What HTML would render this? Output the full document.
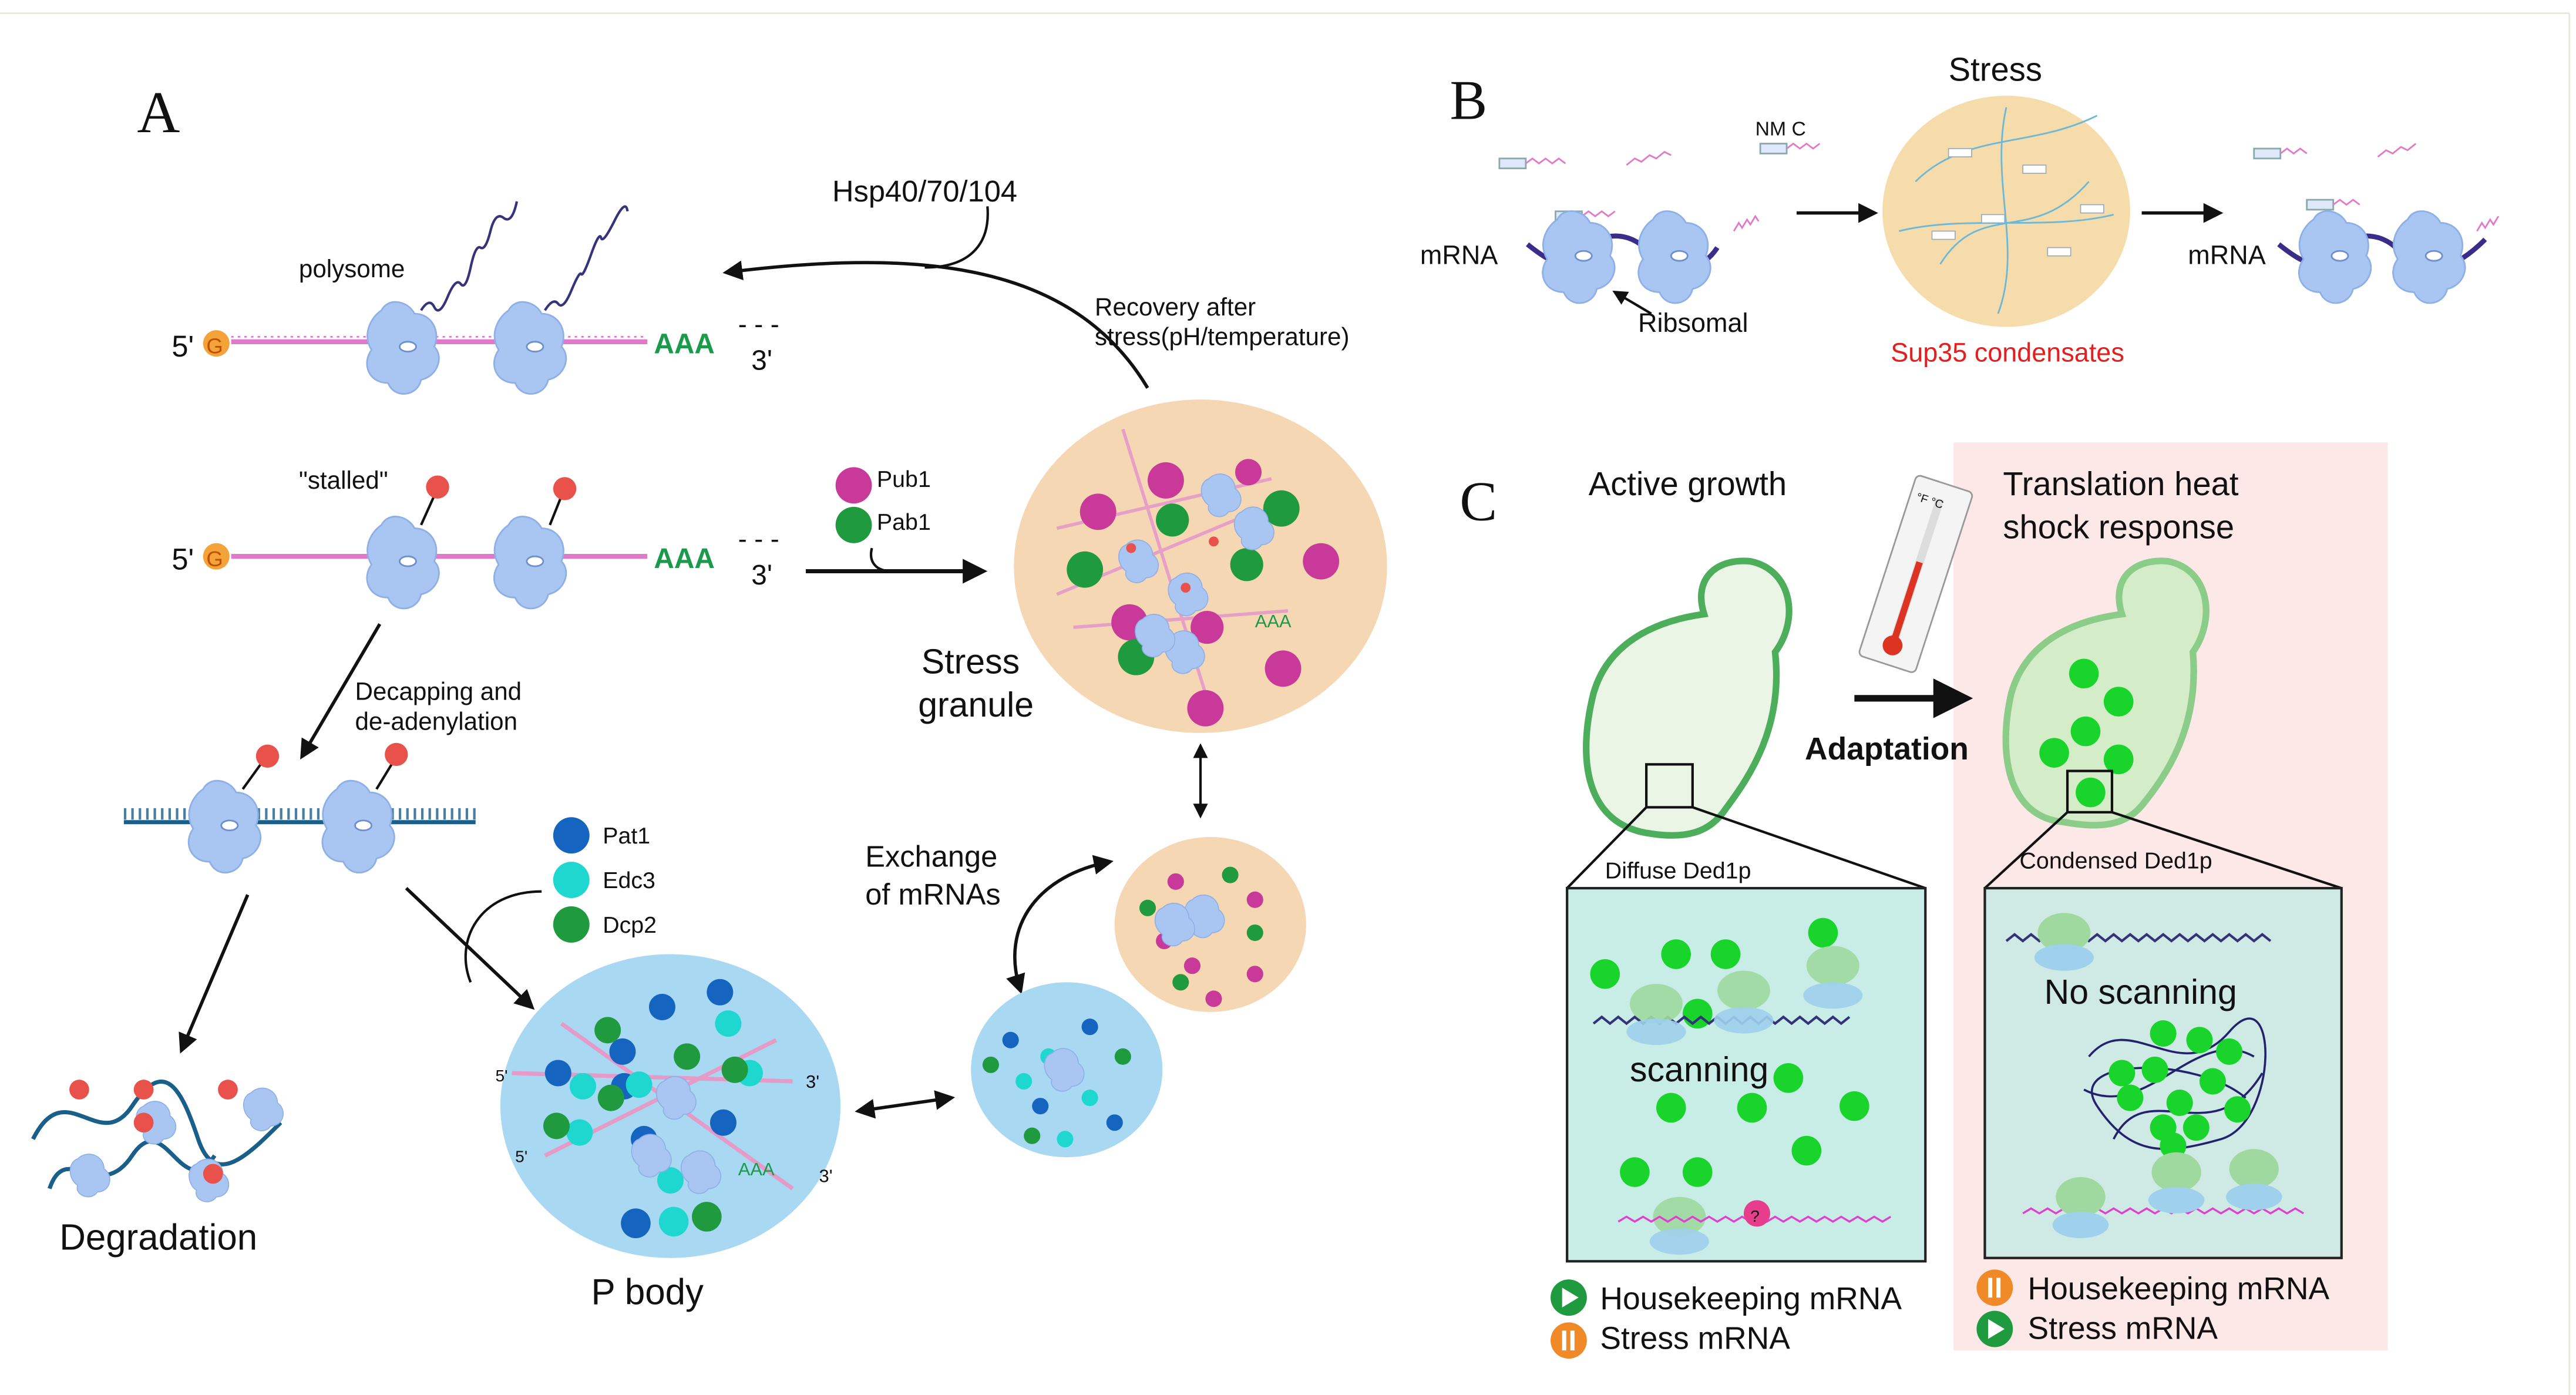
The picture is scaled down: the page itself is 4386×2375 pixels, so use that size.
<!DOCTYPE html>
<html><head><meta charset="utf-8"><style>
html,body{margin:0;padding:0;background:#fff}
svg{display:block}
text{font-family:"Liberation Sans",sans-serif;fill:#111}
</style></head><body>
<svg width="4386" height="2375" viewBox="0 0 1560 845" preserveAspectRatio="none" xmlns="http://www.w3.org/2000/svg">
<defs>
<marker id="ah" viewBox="0 0 10 10" refX="8" refY="5" markerWidth="6" markerHeight="6" orient="auto-start-reverse"><path d="M0,0L10,5L0,10z" fill="#111"/></marker>
<g id="rib">
<path d="M-14,-22 C-10,-30 2,-28 6,-20 C16,-20 22,-10 18,0 C24,6 20,18 10,20 C8,30 -6,32 -10,22 C-22,22 -26,10 -20,2 C-26,-8 -20,-18 -14,-22z" fill="#a9c6f2" stroke="#8fb0e6" stroke-width="1"/>
<ellipse cx="2" cy="0" rx="5" ry="3" fill="#fff" stroke="#6d8fcc" stroke-width="1"/>
</g>
<g id="rs"><path d="M-8,-10 C-2,-16 8,-12 8,-4 C14,0 12,10 4,10 C0,16 -10,12 -8,6 C-14,2 -14,-8 -8,-10z" fill="#a9c6f2" stroke="#8fb0e6" stroke-width="0.6"/></g>
</defs>
<rect x="0" y="0" width="1560" height="845" fill="#fff"/>
<line x1="0" y1="8" x2="1556" y2="8" stroke="#e6eadb" stroke-width="1"/>
<line x1="1556" y1="8" x2="1556" y2="845" stroke="#e6eadb" stroke-width="1"/>
<!-- pink panel -->
<rect x="1183" y="268" width="263" height="550" fill="#fde8e8"/>

<!-- Labels -->
<text x="83" y="80" style="font-family:'Liberation Serif',serif" font-size="36">A</text>
<text x="878" y="72" style="font-family:'Liberation Serif',serif" font-size="34">B</text>
<text x="884" y="315" style="font-family:'Liberation Serif',serif" font-size="34">C</text>

<!-- ===== Panel A ===== -->
<!-- polysome -->
<line x1="140" y1="207" x2="392" y2="207" stroke="#e07ac8" stroke-width="3"/>
<line x1="140" y1="204" x2="392" y2="204" stroke="#e07ac8" stroke-width="1" stroke-dasharray="1.5 2.5"/>
<text x="104" y="216" font-size="18">5'</text><circle cx="131" cy="208" r="8" fill="#f4a23a"/><text x="125" y="214" font-size="13" style="fill:#c05000">G</text>
<text x="396" y="214" font-size="17" style="fill:#1a9a4a;font-weight:bold">AAA</text>
<text x="447" y="202" font-size="16">- - -</text><text x="455" y="224" font-size="17">3'</text>
<path d="M255,188 q5,-8 8,-2 t8,-6 t8,-8 t6,-10 t6,-12 t6,-10 t8,-8 t8,-10" fill="none" stroke="#35337a" stroke-width="1.5"/>
<path d="M330,188 q5,-8 8,-4 t8,-8 t6,-10 t6,-12 t6,-10 t8,-10 t8,-6" fill="none" stroke="#35337a" stroke-width="1.5"/>
<use href="#rib" x="245" y="210"/><use href="#rib" x="322" y="210"/>
<text x="181" y="168" font-size="15">polysome</text>
<text x="504" y="122" font-size="18">Hsp40/70/104</text>
<path d="M598,125 C600,150 585,162 560,162" fill="none" stroke="#111" stroke-width="1.5"/>
<path d="M695,235 C650,160 560,150 440,165" fill="none" stroke="#111" stroke-width="2" marker-end="url(#ah)"/>
<text x="663" y="191" font-size="15">Recovery after</text>
<text x="663" y="209" font-size="15">stress(pH/temperature)</text>

<!-- stalled -->
<line x1="140" y1="337" x2="392" y2="337" stroke="#e07ac8" stroke-width="3"/>
<text x="104" y="345" font-size="18">5'</text><circle cx="131" cy="337" r="8" fill="#f4a23a"/><text x="125" y="343" font-size="13" style="fill:#c05000">G</text>
<text x="396" y="344" font-size="17" style="fill:#1a9a4a;font-weight:bold">AAA</text>
<text x="447" y="332" font-size="16">- - -</text><text x="455" y="354" font-size="17">3'</text>
<use href="#rib" x="245" y="340"/><use href="#rib" x="322" y="340"/>
<line x1="255" y1="318" x2="264" y2="298" stroke="#111" stroke-width="1.5"/><circle cx="265" cy="295" r="7" fill="#e8524a"/>
<line x1="333" y1="318" x2="341" y2="298" stroke="#111" stroke-width="1.5"/><circle cx="342" cy="296" r="7" fill="#e8524a"/>
<text x="181" y="296" font-size="15">"stalled"</text>
<line x1="488" y1="346" x2="595" y2="346" stroke="#111" stroke-width="2.5" marker-end="url(#ah)"/>
<path d="M528,332 C526,340 530,346 540,346" fill="none" stroke="#111" stroke-width="1.5"/>
<circle cx="517" cy="294" r="11" fill="#c8399a"/><text x="531" y="295" font-size="14">Pub1</text>
<circle cx="517" cy="318" r="11" fill="#1f9a3e"/><text x="531" y="321" font-size="14">Pab1</text>

<!-- stress granule -->
<ellipse cx="727" cy="343" rx="113" ry="101" fill="#f6d7b4"/>
<g stroke="#e59ac8" stroke-width="2" opacity="0.9">
<line x1="640" y1="320" x2="770" y2="290"/><line x1="650" y1="380" x2="780" y2="370"/><line x1="680" y1="260" x2="730" y2="420"/><line x1="640" y1="360" x2="760" y2="310"/></g>
<g fill="#c8399a"><circle cx="706" cy="291" r="11"/><circle cx="665" cy="310" r="11"/><circle cx="684" cy="377" r="11"/><circle cx="800" cy="340" r="11"/><circle cx="777" cy="405" r="11"/><circle cx="730" cy="429" r="11"/><circle cx="731" cy="380" r="10"/><circle cx="756" cy="286" r="8"/></g>
<g fill="#1f9a3e"><circle cx="657" cy="345" r="11"/><circle cx="710" cy="315" r="10"/><circle cx="776" cy="308" r="11"/><circle cx="755" cy="342" r="10"/><circle cx="688" cy="398" r="11"/></g>
<use href="#rs" x="690" y="340"/><use href="#rs" x="720" y="360"/><use href="#rs" x="760" y="320"/><use href="#rs" x="718" y="395"/><use href="#rs" x="740" y="300"/><use href="#rs" x="700" y="385"/>
<g fill="#e8524a"><circle cx="685" cy="332" r="3"/><circle cx="735" cy="328" r="3"/><circle cx="718" cy="356" r="3"/></g>
<text x="760" y="380" font-size="11" style="fill:#1a9a4a">AAA</text>
<text x="558" y="408" font-size="21">Stress</text><text x="556" y="434" font-size="21">granule</text>
<line x1="727" y1="452" x2="727" y2="494" stroke="#111" stroke-width="1.5" marker-end="url(#ah)" marker-start="url(#ah)"/>
<!-- small SG -->
<ellipse cx="733" cy="560" rx="58" ry="53" fill="#f6d7b4"/>
<g fill="#c8399a"><circle cx="712" cy="534" r="5"/><circle cx="760" cy="545" r="5"/><circle cx="705" cy="570" r="5"/><circle cx="735" cy="605" r="5"/><circle cx="760" cy="590" r="5"/><circle cx="722" cy="585" r="5"/></g>
<g fill="#1f9a3e"><circle cx="695" cy="550" r="5"/><circle cx="745" cy="530" r="5"/><circle cx="760" cy="565" r="5"/><circle cx="715" cy="595" r="5"/></g>
<use href="#rs" x="730" y="555" transform="scale(1)"/><use href="#rs" x="712" y="560"/>
<text x="524" y="525" font-size="18">Exchange</text><text x="524" y="548" font-size="18">of mRNAs</text>
<path d="M618,600 C605,560 630,530 672,522" fill="none" stroke="#111" stroke-width="2" marker-end="url(#ah)" marker-start="url(#ah)"/>
<!-- small P body -->
<ellipse cx="646" cy="648" rx="58" ry="53" fill="#a8d8f2"/>
<g fill="#1565c0"><circle cx="612" cy="630" r="5"/><circle cx="660" cy="622" r="5"/><circle cx="630" cy="670" r="5"/><circle cx="675" cy="680" r="5"/></g>
<g fill="#1ed8d0"><circle cx="635" cy="640" r="5"/><circle cx="645" cy="690" r="5"/><circle cx="620" cy="655" r="5"/><circle cx="660" cy="665" r="5"/></g>
<g fill="#1f9a3e"><circle cx="600" cy="645" r="5"/><circle cx="680" cy="640" r="5"/><circle cx="625" cy="688" r="5"/></g>
<use href="#rs" x="645" y="648"/>
<line x1="520" y1="673" x2="576" y2="665" stroke="#111" stroke-width="2" marker-end="url(#ah)" marker-start="url(#ah)"/>

<!-- decapping -->
<line x1="230" y1="378" x2="183" y2="458" stroke="#111" stroke-width="2" marker-end="url(#ah)"/>
<text x="215" y="424" font-size="15">Decapping and</text><text x="215" y="442" font-size="15">de-adenylation</text>
<line x1="75" y1="498" x2="288" y2="498" stroke="#1a5e8a" stroke-width="2.5"/>
<line x1="75" y1="493" x2="288" y2="493" stroke="#1a5e8a" stroke-width="7" stroke-dasharray="1.5 3" opacity="0.8"/>
<use href="#rib" x="137" y="500"/><use href="#rib" x="218" y="500"/>
<line x1="147" y1="478" x2="160" y2="460" stroke="#111" stroke-width="1.5"/><circle cx="162" cy="458" r="7" fill="#e8524a"/>
<line x1="228" y1="478" x2="239" y2="460" stroke="#111" stroke-width="1.5"/><circle cx="240" cy="457" r="7" fill="#e8524a"/>
<line x1="150" y1="542" x2="110" y2="636" stroke="#111" stroke-width="2" marker-end="url(#ah)"/>
<line x1="246" y1="538" x2="322" y2="610" stroke="#111" stroke-width="2" marker-end="url(#ah)"/>
<path d="M328,540 C290,540 275,570 285,595" fill="none" stroke="#111" stroke-width="1.5"/>
<circle cx="346" cy="506" r="11" fill="#1565c0"/><text x="365" y="511" font-size="14">Pat1</text>
<circle cx="346" cy="533" r="11" fill="#1ed8d0"/><text x="365" y="538" font-size="14">Edc3</text>
<circle cx="346" cy="560" r="11" fill="#1f9a3e"/><text x="365" y="565" font-size="14">Dcp2</text>

<!-- degradation -->
<path d="M20,690 C40,650 60,700 80,670 S110,660 120,690 S150,700 170,680" fill="none" stroke="#1a5e8a" stroke-width="2.5"/>
<path d="M30,720 C40,690 60,730 80,700 S110,730 130,700" fill="none" stroke="#1a5e8a" stroke-width="2.5"/>
<use href="#rs" x="95" y="680" transform=""/><use href="#rs" x="160" y="672"/><use href="#rs" x="55" y="712"/><use href="#rs" x="127" y="715"/>
<g fill="#e8524a"><circle cx="48" cy="660" r="6"/><circle cx="87" cy="660" r="6"/><circle cx="138" cy="660" r="6"/><circle cx="87" cy="680" r="6"/><circle cx="129" cy="711" r="6"/></g>
<text x="36" y="757" font-size="22">Degradation</text>

<!-- P body -->
<ellipse cx="406" cy="670" rx="103" ry="92" fill="#a8d8f2"/>
<g stroke="#e59ac8" stroke-width="2.5"><line x1="340" y1="620" x2="480" y2="720"/><line x1="310" y1="650" x2="480" y2="655"/><line x1="330" y1="700" x2="470" y2="630"/></g>
<g fill="#1565c0"><circle cx="401" cy="610" r="8"/><circle cx="436" cy="601" r="8"/><circle cx="377" cy="637" r="8"/><circle cx="338" cy="650" r="8"/><circle cx="390" cy="690" r="8"/><circle cx="385" cy="741" r="9"/><circle cx="378" cy="658" r="8"/><circle cx="438" cy="680" r="8"/></g>
<g fill="#1ed8d0"><circle cx="441" cy="620" r="8"/><circle cx="353" cy="658" r="8"/><circle cx="387" cy="657" r="8"/><circle cx="351" cy="686" r="8"/><circle cx="406" cy="715" r="8"/><circle cx="408" cy="740" r="9"/><circle cx="454" cy="650" r="8"/></g>
<g fill="#1f9a3e"><circle cx="368" cy="624" r="8"/><circle cx="370" cy="665" r="8"/><circle cx="416" cy="640" r="8"/><circle cx="445" cy="648" r="8"/><circle cx="337" cy="682" r="8"/><circle cx="428" cy="737" r="9"/></g>
<use href="#rs" x="410" y="665"/><use href="#rs" x="395" y="700"/><use href="#rs" x="425" y="710"/>
<text x="300" y="655" font-size="10">5'</text><text x="312" y="704" font-size="10">5'</text><text x="488" y="659" font-size="11">3'</text><text x="496" y="716" font-size="11">3'</text>
<text x="447" y="712" font-size="11" style="fill:#1a9a4a">AAA</text>
<text x="358" y="790" font-size="22">P body</text>

<!-- ===== Panel B ===== -->
<text x="1180" y="49" font-size="20">Stress</text>
<ellipse cx="1215" cy="128" rx="75" ry="70" fill="#f6dcaa"/>
<g fill="none" stroke="#6cb8d8" stroke-width="1"><path d="M1160,110 C1190,80 1230,90 1270,70 M1175,160 C1200,120 1230,150 1265,110 M1215,65 C1205,110 1225,150 1210,190 M1150,140 C1190,130 1240,140 1280,130"/></g>
<g fill="#fff" stroke="#9ab" stroke-width="0.6"><rect x="1180" y="90" width="14" height="5"/><rect x="1225" y="100" width="14" height="5"/><rect x="1200" y="130" width="14" height="5"/><rect x="1240" y="150" width="14" height="5"/><rect x="1170" y="140" width="14" height="5"/><rect x="1260" y="124" width="14" height="5"/></g>
<text x="1145" y="219" font-size="16" style="fill:#e31f1f">Sup35 condensates</text>
<text x="1063" y="82" font-size="12">NM C</text>
<g fill="#dfe8fa" stroke="#8aa"><rect x="1066" y="87" width="16" height="6"/><rect x="908" y="96" width="16" height="6"/><rect x="942" y="128" width="16" height="6"/><rect x="1365" y="90" width="16" height="6"/><rect x="1397" y="121" width="16" height="6"/></g>
<g fill="none" stroke="#e07ac8" stroke-width="1"><path d="M1082,90 l4,-3 4,3 4,-3 4,3 4,-3"/><path d="M924,99 l4,-3 4,3 4,-3 4,3 4,-3 4,3"/><path d="M958,131 l4,-3 4,3 4,-3 4,3 4,-3"/><path d="M985,100 l5,-4 4,2 5,-4 4,2 5,-4 4,2"/><path d="M1381,93 l4,-3 4,3 4,-3 4,3"/><path d="M1413,124 l4,-3 4,3 4,-3 4,3"/><path d="M1440,95 l5,-4 4,2 5,-4 4,2 5,-4"/><path d="M1050,140 l3,-5 2,3 3,-5 2,3 3,-5 2,3"/><path d="M1500,140 l3,-5 2,3 3,-5 2,3 3,-5"/></g>
<path d="M925,148 C940,160 950,165 960,152 S990,140 1000,155 S1030,165 1040,150" fill="none" stroke="#3a2d8a" stroke-width="3"/>
<use href="#rib" x="957" y="155" transform=""/><use href="#rib" x="1015" y="155"/>
<text x="860" y="160" font-size="16">mRNA</text>
<line x1="1000" y1="190" x2="978" y2="177" stroke="#111" stroke-width="1.5" marker-end="url(#ah)"/>
<text x="992" y="201" font-size="16">Ribsomal</text>
<line x1="1088" y1="129" x2="1135" y2="129" stroke="#111" stroke-width="2" marker-end="url(#ah)"/>
<line x1="1297" y1="129" x2="1344" y2="129" stroke="#111" stroke-width="2" marker-end="url(#ah)"/>
<path d="M1380,148 C1395,160 1405,165 1415,152 S1445,140 1455,155 S1485,165 1505,145" fill="none" stroke="#3a2d8a" stroke-width="3"/>
<use href="#rib" x="1415" y="155"/><use href="#rib" x="1472" y="155"/>
<text x="1325" y="160" font-size="16">mRNA</text>

<!-- ===== Panel C ===== -->
<text x="962" y="300" font-size="20">Active growth</text>
<text x="1213" y="300" font-size="20">Translation heat</text>
<text x="1213" y="326" font-size="20">shock response</text>
<!-- thermometer -->
<g transform="rotate(18 1160 345)"><rect x="1143" y="290" width="36" height="115" rx="3" fill="#f4f4f4" stroke="#999"/><line x1="1161" y1="300" x2="1161" y2="390" stroke="#ddd" stroke-width="5"/><line x1="1161" y1="340" x2="1161" y2="390" stroke="#d32" stroke-width="4"/><circle cx="1161" cy="393" r="6" fill="#d32"/><text x="1147" y="305" font-size="7">°F  °C</text></g>
<line x1="1123" y1="423" x2="1190" y2="423" stroke="#111" stroke-width="4" marker-end="url(#ah)"/>
<text x="1093" y="460" font-size="19" style="font-weight:bold">Adaptation</text>
<!-- yeast left -->
<path d="M1000,505 C960,500 955,460 965,420 C975,385 1010,375 1032,372 C1025,350 1040,338 1060,340 C1085,345 1090,375 1075,395 C1080,440 1060,470 1045,490 C1035,505 1020,508 1000,505z" fill="#eaf5e6" stroke="#4cae5a" stroke-width="4"/>
<rect x="997" y="463" width="28" height="26" fill="none" stroke="#111" stroke-width="1.5"/>
<line x1="997" y1="489" x2="949" y2="538" stroke="#111" stroke-width="1.5"/><line x1="1025" y1="489" x2="1166" y2="538" stroke="#111" stroke-width="1.5"/>
<text x="972" y="532" font-size="14">Diffuse Ded1p</text>
<rect x="949" y="538" width="217" height="226" fill="#c8ece6" stroke="#222" stroke-width="1.5"/>
<g fill="#19d42a"><circle cx="972" cy="590" r="9"/><circle cx="1015" cy="578" r="9"/><circle cx="1045" cy="578" r="9"/><circle cx="1104" cy="565" r="9"/><circle cx="1028" cy="614" r="9"/><circle cx="1083" cy="653" r="9"/><circle cx="1123" cy="670" r="9"/><circle cx="1012" cy="671" r="9"/><circle cx="1061" cy="671" r="9"/><circle cx="1094" cy="697" r="9"/><circle cx="990" cy="710" r="9"/><circle cx="1028" cy="710" r="9"/></g>
<path d="M965,620 l5,-4 5,4 5,-4 5,4 5,-4 5,4 5,-4 5,4 5,-4 5,4 5,-4 5,4 5,-4 5,4 5,-4 5,4 5,-4 5,4 5,-4 5,4 5,-4 5,4 5,-4 5,4 5,-4 5,4 5,-4 5,4 5,-4 5,4 5,-4" fill="none" stroke="#33337a" stroke-width="1.5"/>
<g fill="#9fd9a0" opacity="0.9"><ellipse cx="1003" cy="608" rx="16" ry="12"/><ellipse cx="1056" cy="600" rx="16" ry="12"/><ellipse cx="1110" cy="585" rx="16" ry="12"/><ellipse cx="1017" cy="737" rx="16" ry="12"/></g>
<g fill="#9fd0ec" opacity="0.9"><ellipse cx="1003" cy="625" rx="18" ry="8"/><ellipse cx="1056" cy="618" rx="18" ry="8"/><ellipse cx="1110" cy="603" rx="18" ry="8"/><ellipse cx="1017" cy="752" rx="18" ry="8"/></g>
<path d="M980,740 l5,-3 5,3 5,-3 5,3 5,-3 5,3 5,-3 5,3 5,-3 5,3 5,-3 5,3 5,-3 5,3 5,-3 5,3 5,-3 5,3 5,-3 5,3 5,-3 5,3 5,-3 5,3 5,-3 5,3 5,-3 5,3 5,-3 5,3 5,-3 5,3 5,-3" fill="none" stroke="#e040d0" stroke-width="1.2"/>
<circle cx="1064" cy="735" r="8" fill="#e83c8c"/><text x="1060" y="740" font-size="10">?</text>
<text x="987" y="655" font-size="21">scanning</text>
<circle cx="950" cy="786" r="11" fill="#1f9a3e"/><path d="M946,780 L956,786 L946,792z" fill="#fff"/>
<text x="969" y="793" font-size="19">Housekeeping mRNA</text>
<circle cx="950" cy="812" r="11" fill="#f08a28"/><rect x="946" y="806" width="2.5" height="12" fill="#fff"/><rect x="951" y="806" width="2.5" height="12" fill="#fff"/>
<text x="969" y="817" font-size="19">Stress mRNA</text>
<!-- yeast right -->
<path d="M1250,498 C1215,495 1210,455 1218,420 C1228,385 1262,375 1285,372 C1278,350 1293,338 1313,340 C1338,345 1342,375 1328,395 C1332,440 1312,470 1297,488 C1287,500 1272,502 1250,498z" fill="#d5ecc8" stroke="#8acc88" stroke-width="4"/>
<g fill="#19d42a"><circle cx="1262" cy="408" r="9"/><circle cx="1283" cy="425" r="9"/><circle cx="1263" cy="443" r="9"/><circle cx="1244" cy="456" r="9"/><circle cx="1283" cy="460" r="9"/><circle cx="1266" cy="480" r="9"/></g>
<rect x="1252" y="467" width="27" height="25" fill="none" stroke="#111" stroke-width="1.5"/>
<line x1="1252" y1="492" x2="1202" y2="538" stroke="#111" stroke-width="1.5"/><line x1="1279" y1="492" x2="1418" y2="538" stroke="#111" stroke-width="1.5"/>
<text x="1223" y="526" font-size="14">Condensed Ded1p</text>
<rect x="1202" y="538" width="216" height="224" fill="#cfeae4" stroke="#222" stroke-width="1.5"/>
<path d="M1215,570 l5,-4 5,4 5,-4 5,4 5,-4 5,4 5,-4 5,4 5,-4 5,4 5,-4 5,4 5,-4 5,4 5,-4 5,4 5,-4 5,4 5,-4 5,4 5,-4 5,4 5,-4 5,4 5,-4 5,4 5,-4 5,4 5,-4 5,4 5,-4 5,4" fill="none" stroke="#33337a" stroke-width="1.5"/>
<ellipse cx="1250" cy="565" rx="16" ry="12" fill="#9fd9a0"/><ellipse cx="1250" cy="580" rx="18" ry="8" fill="#9fd0ec"/>
<text x="1238" y="608" font-size="21">No scanning</text>
<g fill="none" stroke="#22226e" stroke-width="1.3"><path d="M1265,640 C1290,610 1320,660 1350,625 S1380,680 1345,690 S1290,700 1270,670 S1330,640 1360,665"/><path d="M1280,690 C1300,650 1340,700 1370,650"/><path d="M1262,660 C1300,680 1330,620 1365,640"/></g>
<g fill="#19d42a"><circle cx="1310" cy="626" r="8"/><circle cx="1332" cy="630" r="8"/><circle cx="1350" cy="637" r="8"/><circle cx="1285" cy="650" r="8"/><circle cx="1305" cy="648" r="8"/><circle cx="1340" cy="655" r="8"/><circle cx="1290" cy="665" r="8"/><circle cx="1320" cy="668" r="8"/><circle cx="1355" cy="672" r="8"/><circle cx="1310" cy="683" r="8"/><circle cx="1330" cy="683" r="8"/><circle cx="1316" cy="694" r="8"/></g>
<path d="M1225,735 l5,-3 5,3 5,-3 5,3 5,-3 5,3 5,-3 5,3 5,-3 5,3 5,-3 5,3 5,-3 5,3 5,-3 5,3 5,-3 5,3 5,-3 5,3 5,-3 5,3 5,-3 5,3 5,-3 5,3 5,-3 5,3 5,-3 5,3 5,-3 5,3 5,-3 5,3" fill="none" stroke="#e040d0" stroke-width="1.2"/>
<g fill="#9fd9a0"><ellipse cx="1260" cy="725" rx="15" ry="12"/><ellipse cx="1318" cy="710" rx="15" ry="12"/><ellipse cx="1365" cy="708" rx="15" ry="12"/></g>
<g fill="#9fd0ec"><ellipse cx="1260" cy="742" rx="17" ry="8"/><ellipse cx="1318" cy="727" rx="17" ry="8"/><ellipse cx="1365" cy="725" rx="17" ry="8"/></g>
<circle cx="1208" cy="780" r="11" fill="#f08a28"/><rect x="1204" y="774" width="2.5" height="12" fill="#fff"/><rect x="1209" y="774" width="2.5" height="12" fill="#fff"/>
<text x="1228" y="787" font-size="19">Housekeeping mRNA</text>
<circle cx="1208" cy="805" r="11" fill="#1f9a3e"/><path d="M1204,799 L1214,805 L1204,811z" fill="#fff"/>
<text x="1228" y="811" font-size="19">Stress mRNA</text>
</svg>
</body></html>
